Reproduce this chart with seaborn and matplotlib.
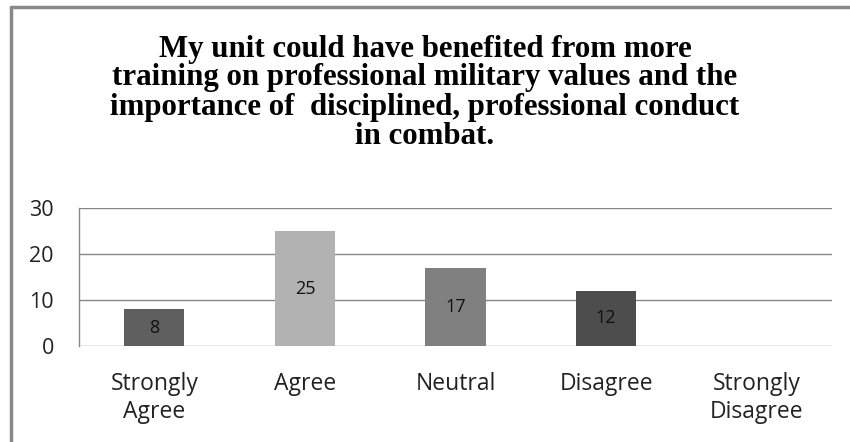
import matplotlib
matplotlib.use("Agg")
import matplotlib.pyplot as plt
import seaborn as sns
import pandas as pd
from matplotlib.lines import Line2D

categories = ["Strongly\nAgree", "Agree", "Neutral", "Disagree", "Strongly\nDisagree"]
counts = [8, 25, 17, 12, 0]
bar_colors = ["#5f5f5f", "#b2b2b2", "#808080", "#4d4d4d", "#999999"]
y_ticks = [0, 10, 20, 30]
title = ("My unit could have benefited from more\n"
         "training on professional military values and the\n"
         "importance of  disciplined, professional conduct\n"
         "in combat.")

df = pd.DataFrame({"response": categories, "count": counts})

sns.set_style("white")
plt.rcParams["font.family"] = ["Open Sans", "DejaVu Sans"]

fig = plt.figure(figsize=(8.5, 4.42), dpi=100)
ax = fig.add_axes([79 / 850, 1 - 346 / 442, (832 - 79) / 850, (346 - 208) / 442])

sns.barplot(data=df, x="response", y="count", hue="response",
            palette=bar_colors, width=0.4, legend=False, ax=ax,
            saturation=1, edgecolor="none")

ax.set_ylim(0, 30)
ax.set_yticks(y_ticks)
ax.set_xlim(-0.5, 4.5)
ax.yaxis.grid(True, color="#868686", linewidth=1)
ax.set_axisbelow(True)
for side in ["top", "right", "bottom"]:
    ax.spines[side].set_visible(False)
ax.spines["left"].set_color("#868686")
ax.spines["left"].set_linewidth(1)
ax.tick_params(axis="y", length=0, labelsize=15.5, colors="#222222", pad=18)
ax.tick_params(axis="x", length=0, labelsize=16.5, colors="#222222", pad=19)
for lbl in ax.get_xticklabels():
    lbl.set_linespacing(1.2)
ax.set_xlabel("")
ax.set_ylabel("")

for cont, v in zip(ax.containers, counts):
    if v > 0:
        ax.bar_label(cont, labels=[str(v)], label_type="center",
                     fontsize=13, color="#111111", padding=0)

fig.text(0.5, 1 - 92.5 / 442, title, ha="center", va="center",
         fontfamily="Liberation Serif", fontweight="bold", fontsize=22.2,
         linespacing=1.0, color="black")

# outer chart frame (left and top edges)
fig.add_artist(Line2D([10.5 / 850, 10.5 / 850], [0, 1 - 7 / 442],
                      transform=fig.transFigure, color="#888888", linewidth=2.5))
fig.add_artist(Line2D([10.5 / 850, 1], [1 - 7 / 442, 1 - 7 / 442],
                      transform=fig.transFigure, color="#888888", linewidth=2.5))

fig.savefig("out.png", dpi=100)
